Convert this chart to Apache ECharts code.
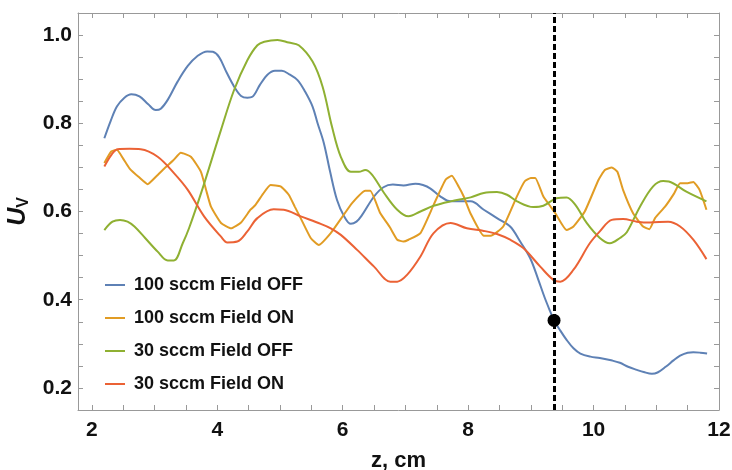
<!DOCTYPE html>
<html lang="en">
<head>
    <meta charset="UTF-8">
    <title>U_V vs z</title>
    <script src="https://cdn.jsdelivr.net/npm/echarts@6/dist/echarts.min.js"></script>
    <style>
        html, body { margin: 0; padding: 0; background: #fff; }
    </style>
</head>
<body>
    <div id="main" style="width: 732px; height: 470px"></div>
    <script>
        // values: [z (cm), U_V]
        var names = ['100 sccm Field OFF', '100 sccm Field ON', '30 sccm Field OFF', '30 sccm Field ON'];
        var colors = ['#5E81B5', '#E19C24', '#8FB032', '#EB6235'];

        var off100 = [[2.2,0.766],[2.3,0.805],[2.4,0.838],[2.52,0.858],[2.63,0.866],[2.76,0.861],[2.9,0.843],[3.02,0.830],[3.1,0.833],[3.21,0.853],[3.37,0.895],[3.53,0.930],[3.68,0.952],[3.84,0.963],[3.93,0.962],[4.03,0.950],[4.15,0.915],[4.27,0.883],[4.38,0.862],[4.48,0.858],[4.56,0.860],[4.68,0.887],[4.8,0.910],[4.92,0.919],[5.03,0.919],[5.15,0.911],[5.28,0.898],[5.4,0.872],[5.52,0.838],[5.6,0.80],[5.7,0.755],[5.8,0.69],[5.91,0.626],[6.02,0.59],[6.13,0.572],[6.22,0.577],[6.3,0.59],[6.5,0.634],[6.65,0.655],[6.8,0.661],[6.97,0.659],[7.16,0.663],[7.28,0.66],[7.4,0.652],[7.55,0.635],[7.72,0.623],[8.04,0.623],[8.25,0.604],[8.46,0.585],[8.67,0.566],[8.83,0.532],[8.99,0.494],[9.12,0.445],[9.22,0.405],[9.31,0.373],[9.37,0.353],[9.47,0.33],[9.57,0.309],[9.68,0.29],[9.79,0.278],[9.95,0.271],[10.1,0.268],[10.3,0.262],[10.42,0.257],[10.55,0.248],[10.69,0.241],[10.8,0.236],[10.93,0.232],[11.02,0.235],[11.15,0.248],[11.28,0.263],[11.38,0.273],[11.5,0.280],[11.59,0.281],[11.7,0.28],[11.81,0.278]];

        var on100 = [[2.2,0.710],[2.31,0.736],[2.4,0.740],[2.5,0.72],[2.6,0.698],[2.75,0.678],[2.89,0.662],[3.03,0.68],[3.16,0.698],[3.3,0.716],[3.42,0.733],[3.58,0.724],[3.74,0.690],[3.82,0.65],[3.9,0.611],[4.06,0.574],[4.22,0.562],[4.38,0.575],[4.53,0.604],[4.61,0.615],[4.73,0.64],[4.85,0.660],[5.01,0.657],[5.14,0.638],[5.24,0.61],[5.33,0.585],[5.49,0.540],[5.62,0.524],[5.81,0.551],[5.98,0.585],[6.15,0.619],[6.36,0.647],[6.44,0.647],[6.6,0.596],[6.75,0.565],[6.87,0.536],[6.97,0.532],[7.05,0.536],[7.24,0.551],[7.45,0.615],[7.64,0.672],[7.74,0.681],[7.85,0.656],[7.93,0.634],[8.04,0.595],[8.25,0.545],[8.36,0.545],[8.56,0.566],[8.78,0.635],[8.9,0.668],[9.0,0.676],[9.07,0.676],[9.2,0.634],[9.31,0.612],[9.39,0.596],[9.57,0.558],[9.68,0.566],[9.86,0.600],[10.08,0.672],[10.18,0.694],[10.29,0.700],[10.38,0.690],[10.47,0.649],[10.63,0.596],[10.79,0.566],[10.89,0.560],[10.98,0.585],[11.14,0.611],[11.28,0.64],[11.38,0.664],[11.5,0.664],[11.59,0.667],[11.69,0.649],[11.8,0.604]];

        var off30 = [[2.2,0.558],[2.33,0.577],[2.45,0.581],[2.57,0.577],[2.68,0.566],[2.85,0.54],[3.05,0.509],[3.21,0.489],[3.31,0.489],[3.45,0.528],[3.55,0.562],[3.75,0.645],[4.06,0.785],[4.27,0.876],[4.48,0.943],[4.64,0.977],[4.75,0.985],[4.96,0.989],[5.14,0.983],[5.3,0.977],[5.52,0.94],[5.68,0.883],[5.83,0.792],[5.97,0.724],[6.13,0.690],[6.26,0.690],[6.36,0.694],[6.47,0.683],[6.66,0.642],[6.87,0.604],[7.05,0.589],[7.24,0.600],[7.45,0.613],[7.72,0.623],[8.04,0.632],[8.25,0.642],[8.46,0.644],[8.62,0.638],[8.78,0.623],[9.04,0.61],[9.2,0.613],[9.41,0.630],[9.57,0.632],[9.71,0.615],[9.89,0.574],[10.1,0.540],[10.26,0.528],[10.42,0.540],[10.53,0.553],[10.74,0.611],[10.95,0.657],[11.11,0.669],[11.2,0.668],[11.48,0.645],[11.8,0.623]];

        var on30 = [[2.2,0.702],[2.31,0.728],[2.41,0.741],[2.6,0.742],[2.78,0.741],[3.05,0.724],[3.31,0.687],[3.53,0.649],[3.79,0.589],[4.06,0.543],[4.16,0.530],[4.32,0.532],[4.48,0.555],[4.64,0.585],[4.9,0.605],[5.06,0.604],[5.33,0.589],[5.65,0.572],[5.81,0.562],[5.97,0.547],[6.23,0.513],[6.5,0.475],[6.76,0.441],[6.87,0.441],[7.03,0.457],[7.24,0.498],[7.45,0.551],[7.72,0.574],[7.98,0.562],[8.25,0.556],[8.46,0.549],[8.67,0.536],[8.88,0.517],[9.15,0.475],[9.36,0.445],[9.47,0.441],[9.68,0.468],[9.94,0.528],[10.1,0.555],[10.29,0.581],[10.47,0.583],[10.69,0.577],[10.9,0.575],[11.19,0.577],[11.38,0.566],[11.59,0.536],[11.8,0.492]];

        var marker = [9.37, 0.353];

        var xLabels = [2, 4, 6, 8, 10, 12];
        var xTicks = [2, 2.5, 3, 3.5, 4, 4.5, 5, 5.5, 6, 6.5, 7, 7.5, 8, 8.5, 9, 9.5, 10, 10.5, 11, 11.5, 12];
        var yLabels = [0.2, 0.4, 0.6, 0.8, 1.0];
        var yTicks = [0.2, 0.25, 0.3, 0.35, 0.4, 0.45, 0.5, 0.55, 0.6, 0.65, 0.7, 0.75, 0.8, 0.85, 0.9, 0.95, 1.0];

        var frame = '#999999';
        var font = '"Liberation Sans", Arial, sans-serif';

        var mychart = echarts.init(document.getElementById('main'));

        function xAxisOpt(pos, withLabels) {
            return {
                type: 'value', position: pos, min: 1.78, max: 12,
                axisLine: { show: true, onZero: false, lineStyle: { color: frame, width: 1 } },
                axisTick: { show: true, inside: true, length: 5, customValues: xTicks, lineStyle: { color: frame } },
                axisLabel: {
                    show: withLabels, customValues: xLabels, margin: 10,
                    color: '#111', fontSize: 21, fontWeight: 'bold', fontFamily: font
                },
                splitLine: { show: false },
                name: withLabels ? 'z, cm' : '',
                nameLocation: 'middle', nameGap: 40,
                nameTextStyle: { color: '#111', fontSize: 22, fontWeight: 'bold', fontFamily: font }
            };
        }

        function yAxisOpt(pos, withLabels) {
            return {
                type: 'value', position: pos, min: 0.15, max: 1.05,
                axisLine: { show: true, onZero: false, lineStyle: { color: frame, width: 1 } },
                axisTick: { show: true, inside: true, length: 5, customValues: yTicks, lineStyle: { color: frame } },
                axisLabel: {
                    show: withLabels, customValues: yLabels, margin: 6,
                    color: '#111', fontSize: 21, fontWeight: 'bold', fontFamily: font,
                    formatter: function (v) { return v.toFixed(1); }
                },
                splitLine: { show: false },
                name: withLabels ? '{u|U}{v|V}' : '',
                nameLocation: 'middle', nameGap: 42,
                nameTextStyle: {
                    color: '#111', fontFamily: font,
                    rich: {
                        u: { fontSize: 25, fontStyle: 'italic', fontWeight: 'bold', fontFamily: font, color: '#111' },
                        v: { fontSize: 16, fontWeight: 'bold', fontFamily: font, color: '#111', padding: [12, 0, 0, 0] }
                    }
                }
            };
        }

        var dataSets = [off100, on100, off30, on30];
        var series = dataSets.map(function (d, i) {
            return {
                name: names[i], type: 'line', data: d,
                xAxisIndex: 0, yAxisIndex: 0,
                symbol: 'none', smooth: i === 1 ? 0.15 : 0.35,
                lineStyle: { color: colors[i], width: 2 },
                itemStyle: { color: colors[i] },
                z: 3
            };
        });

        series.push({
            type: 'scatter', data: [marker], symbolSize: 13,
            itemStyle: { color: '#000', opacity: 1 }, z: 6,
            markLine: {
                silent: true, symbol: 'none', label: { show: false },
                lineStyle: { color: '#000', width: 3, type: [6, 3], opacity: 1 },
                data: [{ xAxis: marker[0] }]
            }
        });

        var option = {
            animation: false,
            backgroundColor: '#fff',
            grid: { left: 78, right: 13, top: 13, bottom: 60, outerBoundsMode: 'none', containLabel: false },
            legend: {
                data: names, orient: 'vertical', left: 105, top: 276, padding: 0,
                icon: 'rect', itemWidth: 20, itemHeight: 2, itemGap: 15,
                textStyle: { color: '#111', fontSize: 18, fontWeight: 'bold', fontFamily: font, lineHeight: 18, padding: [0, 0, 0, 4] }
            },
            xAxis: [xAxisOpt('bottom', true), xAxisOpt('top', false)],
            yAxis: [yAxisOpt('left', true), yAxisOpt('right', false)],
            series: series
        };

        mychart.setOption(option);
    </script>
</body>
</html>
